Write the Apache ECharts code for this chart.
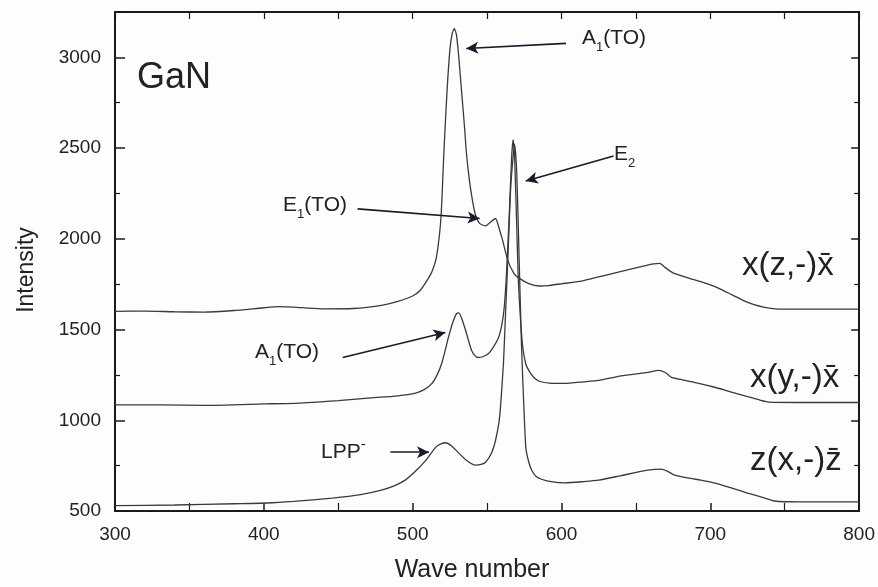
<!DOCTYPE html>
<html>
<head>
<meta charset="utf-8">
<script src="https://cdn.jsdelivr.net/npm/echarts@6/dist/echarts.min.js"></script>
<style>
html,body{margin:0;padding:0;background:#fdfdfb;}
#chart{width:878px;height:587px;}
</style>
</head>
<body>
<div id="chart"></div>
<script>
// ---------- data ----------
var xTicks = [300, 400, 500, 600, 700, 800];
var yTicks = [500, 1000, 1500, 2000, 2500, 3000];

// x(z,-)x̄ (top curve)
var xzX = [300,320,340,360,380,400,410,420,430,440,460,480,490,500,505,510,513,516,519,521,523,525,526.5,528,529.5,531,533,535,536,538,540,542,545,549,552,555.7,558,560,564,568,571,578,585,591,600,615,630,645,655,662,666,670,675,685,695,705,715,725,735,742,750,770,800];
var xzY = [1600,1602,1598,1596,1605,1620,1626,1624,1618,1614,1616,1635,1655,1685,1715,1775,1820,1900,2115,2480,2800,3040,3130,3160,3120,3000,2800,2600,2484,2330,2220,2137,2085,2071,2090,2112,2060,2005,1880,1810,1786,1753,1740,1742,1752,1770,1800,1830,1850,1862,1865,1840,1812,1785,1760,1730,1690,1650,1625,1615,1612,1612,1612];

// x(y,-)x̄ (middle curve)
var xyX = [300,330,360,400,424,450,470,490,502,508,513,517,519.5,522,524,527,529.5,531,533,535.6,537.5,539.6,542,544,547,551,554,557.7,560,561.5,563,565,566.5,567.5,568.5,570,571,572.5,574,576,578,581,585,592,602,615,625,640,658,665,670,674,680,690,703,713,725,733,740,760,800];
var xyY = [1085,1085,1082,1090,1095,1108,1122,1135,1150,1170,1203,1260,1313,1390,1456,1540,1588,1592,1560,1495,1440,1385,1355,1346,1350,1368,1400,1456,1530,1620,1800,2150,2450,2545,2450,2050,1770,1550,1401,1310,1275,1240,1215,1205,1203,1212,1220,1245,1264,1275,1262,1236,1225,1208,1182,1158,1130,1112,1100,1098,1098];

// z(x,-)z̄ (bottom curve)
var zxX = [300,340,380,402,420,446,465,479,488,495,502,509,515.5,519,522,526,531,536,542,546,549,553,555.7,558,559,561,562.4,564,566,568.5,570,571.5,573,574,576,578,580,583,586.5,594,602.5,615,625,640,658,667,671,676,690,703,715,725,735,743,760,800];
var zxY = [530,533,540,544,553,571,590,615,640,670,720,780,852,870,876,860,819,780,753,757,769,820,890,990,1071,1313,1588,1900,2300,2520,2350,1900,1450,1220,852,770,725,690,675,660,655,662,670,695,725,731,720,698,675,654,625,599,575,555,550,550];

// annotation arrows [from, to] in data coordinates
var arrowA1top = [[603, 3077], [536, 3049]];
var arrowE1 = [[463, 2165], [545, 2112]];
var arrowE2 = [[635, 2456], [576, 2319]];
var arrowA1mid = [[453, 1346], [522, 1484]];
var arrowLPP = [[485, 824], [511, 824]];

function pairs(xs, ys) {
  return xs.map(function (x, i) { return [x, ys[i]]; });
}

var chart = echarts.init(document.getElementById('chart'), null, {renderer: 'canvas'});
var FONT = 'Liberation Sans, Arial, Helvetica, sans-serif';
var lineColor = '#3a3a3a';
var axisColor = '#1a1a1a';

function arrowLine(a) {
  return [{coord: a[0]}, {coord: a[1]}];
}

var annRich = {
  a: {fontSize: 21, fontFamily: FONT, color: '#222', lineHeight: 30},
  s: {fontSize: 13, fontFamily: FONT, color: '#222', lineHeight: 14, verticalAlign: 'bottom'},
  p: {fontSize: 15, fontFamily: FONT, color: '#222', lineHeight: 14, verticalAlign: 'top'}
};

function annText(x, y, text) {
  return {
    type: 'text', left: x, top: y,
    style: {text: text, rich: annRich, fill: '#222'}
  };
}
function bigText(x, y, text, size) {
  return {
    type: 'text', left: x, top: y,
    style: {text: text, font: size + 'px ' + FONT, fill: '#222'}
  };
}

var option = {
  animation: false,
  backgroundColor: '#fdfdfb',
  grid: {left: 115, right: 16, top: 12, bottom: 76, containLabel: false},
  xAxis: [{
    type: 'value', min: 300, max: 800, interval: 100,
    axisLine: {show: true, lineStyle: {color: axisColor, width: 2}},
    axisTick: {show: true, inside: true, length: 8, lineStyle: {color: axisColor, width: 1.5}},
    minorTick: {show: true, splitNumber: 2, length: 8, lineStyle: {color: axisColor, width: 1.2}},
    axisLabel: {fontSize: 19, fontFamily: FONT, color: '#222', margin: 14,
      formatter: function (v) { return xTicks.indexOf(v) >= 0 ? String(v) : ''; }},
    splitLine: {show: false}
  }, {
    type: 'value', position: 'top', min: 300, max: 800, interval: 50,
    axisLine: {show: true, lineStyle: {color: axisColor, width: 2}},
    axisTick: {show: true, inside: true, length: 7, lineStyle: {color: axisColor, width: 1.2}},
    axisLabel: {show: false}, splitLine: {show: false}
  }],
  yAxis: [{
    type: 'value', min: 500, max: 3250, interval: 500,
    axisLine: {show: true, lineStyle: {color: axisColor, width: 2}},
    axisTick: {show: true, inside: true, length: 10, lineStyle: {color: axisColor, width: 1.5}},
    minorTick: {show: true, splitNumber: 2, length: 5, lineStyle: {color: axisColor, width: 1.2}},
    axisLabel: {fontSize: 19, fontFamily: FONT, color: '#222', margin: 14, showMaxLabel: false,
      formatter: function (v) { return yTicks.indexOf(v) >= 0 ? String(v) : ''; }},
    splitLine: {show: false}
  }, {
    type: 'value', position: 'right', min: 500, max: 3250, interval: 500,
    axisLine: {show: true, lineStyle: {color: axisColor, width: 2}},
    axisTick: {show: true, inside: true, length: 8, lineStyle: {color: axisColor, width: 1.5}},
    minorTick: {show: true, splitNumber: 2, length: 5, lineStyle: {color: axisColor, width: 1.2}},
    axisLabel: {show: false}, splitLine: {show: false}
  }],
  series: [{
    type: 'line', name: 'x(z,-)x', data: pairs(xzX, xzY),
    showSymbol: false, smooth: 0.2, lineStyle: {color: lineColor, width: 1.3},
    markLine: {
      silent: true, symbol: ['none', 'arrow'], symbolSize: [9, 12],
      label: {show: false},
      lineStyle: {color: '#1a1a2a', width: 1.6, type: 'solid'},
      data: [arrowLine(arrowA1top), arrowLine(arrowE1), arrowLine(arrowE2),
             arrowLine(arrowA1mid), arrowLine(arrowLPP)]
    }
  }, {
    type: 'line', name: 'x(y,-)x', data: pairs(xyX, xyY),
    showSymbol: false, smooth: 0.2, lineStyle: {color: lineColor, width: 1.3}
  }, {
    type: 'line', name: 'z(x,-)z', data: pairs(zxX, zxY),
    showSymbol: false, smooth: 0.2, lineStyle: {color: lineColor, width: 1.3}
  }],
  graphic: [
    {type: 'text', x: 27, y: 270, rotation: Math.PI / 2,
     style: {text: 'Intensity', font: '23px ' + FONT, fill: '#222', align: 'center', verticalAlign: 'middle'}},
    {type: 'text', x: 472, y: 570,
     style: {text: 'Wave number', font: '25px ' + FONT, fill: '#222', align: 'center', verticalAlign: 'middle'}},
    bigText(137, 60, 'GaN', 36),
    annText(582, 28, '{a|A}{s|1}{a|(TO)}'),
    annText(283, 195, '{a|E}{s|1}{a|(TO)}'),
    annText(614, 144, '{a|E}{s|2}'),
    annText(255, 342, '{a|A}{s|1}{a|(TO)}'),
    annText(321, 437, '{a|LPP}{p|-}'),
    bigText(742, 249, 'x(z,-)x\u0304', 33),
    bigText(750, 361, 'x(y,-)x\u0304', 33),
    bigText(750, 444, 'z(x,-)z\u0304', 33)
  ]
};
chart.setOption(option);
</script>
</body>
</html>
